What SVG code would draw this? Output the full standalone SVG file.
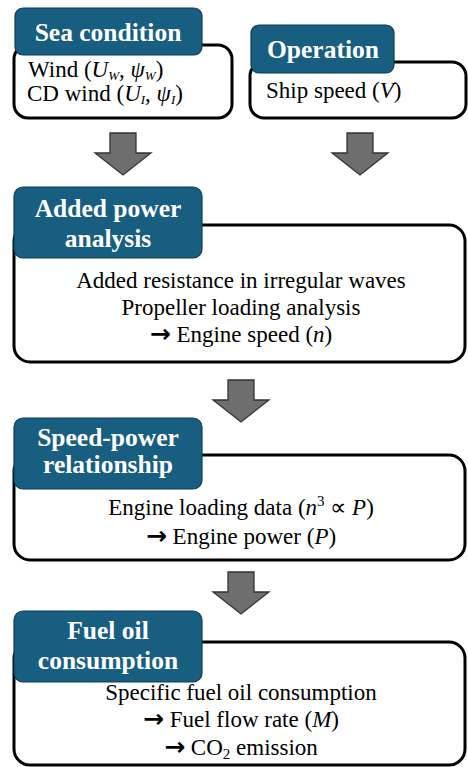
<svg xmlns="http://www.w3.org/2000/svg" width="468" height="767" viewBox="0 0 468 767">
<style>
.box{fill:#fff;stroke:#000;stroke-width:3}
.lab{fill:#175e80;stroke:#0e3f57;stroke-width:1.2}
.ttl{font-family:"Liberation Serif",serif;font-weight:bold;font-size:25.5px;fill:#fff;text-anchor:middle}
.txt{font-family:"Liberation Serif",serif;font-size:23px;fill:#000}
.c{text-anchor:middle}
.m{font-style:italic}
.s{font-size:13px;font-style:italic}
.a{font-family:"DejaVu Sans",sans-serif;font-weight:bold;font-size:25px}
.arr{fill:#6e6e6e;stroke:#333;stroke-width:1.3}
</style>
<defs>
<path id="ar" d="M-13,0 H13 V20 H28 L0,42 L-28,20 H-13 Z"/>
</defs>
<g id="connectors">
<use href="#ar" class="arr" x="123" y="133"/>
<use href="#ar" class="arr" x="360" y="133"/>
<use href="#ar" class="arr" x="241" y="380"/>
<use href="#ar" class="arr" x="241" y="572"/>
</g>
<g id="sea-condition">
<rect class="box" x="14" y="45" width="218" height="73" rx="14"/>
<rect class="lab" x="15" y="8" width="187" height="47" rx="8"/>
<text class="ttl" x="108" y="41">Sea condition</text>
<text class="txt" x="28" y="77">Wind (<tspan class="m">U</tspan><tspan class="s" dy="3">W</tspan><tspan dy="-3">, </tspan><tspan class="m">ψ</tspan><tspan class="s" dy="3">W</tspan><tspan dy="-3">)</tspan></text>
<text class="txt" x="27" y="101">CD wind (<tspan class="m">U</tspan><tspan class="s" dy="3">I</tspan><tspan dy="-3">, </tspan><tspan class="m">ψ</tspan><tspan class="s" dy="3">I</tspan><tspan dy="-3">)</tspan></text>
</g>
<g id="operation">
<rect class="box" x="250" y="62" width="216" height="56" rx="14"/>
<rect class="lab" x="251" y="25" width="143" height="48" rx="8"/>
<text class="ttl" x="323" y="58">Operation</text>
<text class="txt" x="266" y="98">Ship speed (<tspan class="m">V</tspan>)</text>
</g>
<g id="added-power">
<rect class="box" x="14" y="225" width="451" height="137" rx="16"/>
<rect class="lab" x="14" y="187" width="188" height="71" rx="9"/>
<text class="ttl" x="108" y="217">Added power</text>
<text class="ttl" x="108" y="247">analysis</text>
<text class="txt c" x="241" y="288">Added resistance in irregular waves</text>
<text class="txt c" x="241" y="315">Propeller loading analysis</text>
<text class="txt c" x="241" y="342"><tspan class="a">→</tspan> Engine speed (<tspan class="m">n</tspan>)</text>
</g>
<g id="speed-power">
<rect class="box" x="14" y="455" width="451" height="105" rx="16"/>
<rect class="lab" x="14" y="418" width="188" height="71" rx="9"/>
<text class="ttl" x="108" y="446">Speed-power</text>
<text class="ttl" x="108" y="473">relationship</text>
<text class="txt c" x="241" y="515">Engine loading data (<tspan class="m">n</tspan><tspan font-size="15" dy="-9">3</tspan><tspan dy="9"> ∝ </tspan><tspan class="m">P</tspan>)</text>
<text class="txt c" x="241" y="544"><tspan class="a">→</tspan> Engine power (<tspan class="m">P</tspan>)</text>
</g>
<g id="fuel-oil">
<rect class="box" x="14" y="642" width="451" height="123" rx="16"/>
<rect class="lab" x="14" y="611" width="188" height="71" rx="9"/>
<text class="ttl" x="108" y="639">Fuel oil</text>
<text class="ttl" x="108" y="669">consumption</text>
<text class="txt c" x="241" y="700">Specific fuel oil consumption</text>
<text class="txt c" x="241" y="727"><tspan class="a">→</tspan> Fuel flow rate (<tspan class="m">M</tspan>)</text>
<text class="txt c" x="241" y="755"><tspan class="a">→</tspan> CO<tspan font-size="15" dy="4">2</tspan><tspan dy="-4"> emission</tspan></text>
</g>
</svg>
